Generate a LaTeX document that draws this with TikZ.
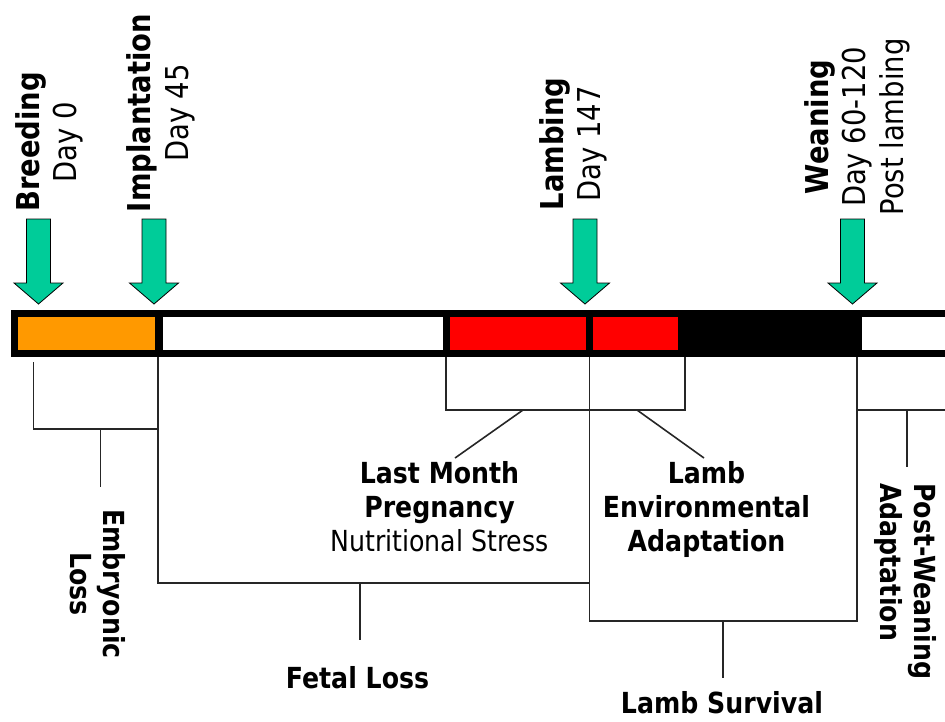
\documentclass[tikz,border=0pt]{standalone}
\usepackage{fontspec}
\setmainfont{DejaVu Sans}[FakeStretch=0.87]
\usepackage{tikz}
\usetikzlibrary{positioning}
\definecolor{arrowgreen}{RGB}{0,204,153}
\definecolor{embryo}{RGB}{255,153,0}

\tikzset{
  barseg/.style={draw=black,line width=7.2pt},
  dayarrow/.style={fill=arrowgreen,draw=black,line width=0.8pt},
  bracket/.style={draw=black!85,line width=1.6pt},
  toplab/.style={inner sep=0pt,rotate=90,anchor=base,
                 font=\fontsize{31.5}{37}\selectfont},
  toplabb/.style={toplab,font=\fontsize{31.5}{37}\selectfont\bfseries},
  lowlab/.style={inner sep=0pt,anchor=base,
                 font=\fontsize{29}{34}\selectfont},
  lowlabb/.style={lowlab,font=\fontsize{29}{34}\selectfont\bfseries}
}

\begin{document}
\begin{tikzpicture}[x=1pt,y=-1pt]
    \useasboundingbox (0,0) rectangle (945,721);
    \clip (0,0) rectangle (945,721);
    % ------------------------------------------------------------------
    %                             TIME BAR
    % ------------------------------------------------------------------
    \foreach \xa/\xb/\col in {14.5/159/embryo, 159/446.5/white,
        446.5/589.5/red, 589.5/682/red, 682/858.5/black, 858.5/990/white}
      \draw[barseg,fill=\col] (\xa,313.5) rectangle (\xb,353.5);

    % milestone arrows
    \foreach \ax in {38.5,154,585,852.5}
      \draw[dayarrow] (\ax-12,219) -- (\ax+12,219) -- (\ax+12,283)
        -- (\ax+24.5,283) -- (\ax,304) -- (\ax-24.5,283)
        -- (\ax-12,283) -- cycle;

    % ------------------------------------------------------------------
    %                             TOP LABELS
    % ------------------------------------------------------------------
    \node[toplabb] (breed)     at (39,142)  {Breeding};
    \node[toplab]  (breedday)  at (76,142)  {Day 0};
    \node[toplabb] (implant)   at (150,113) {Implantation};
    \node[toplab]  (implday)   at (188,113) {Day 45};
    \node[toplabb] (lambing)   at (563,144) {Lambing};
    \node[toplab]  (lambday)   at (600,144) {Day 147};
    \node[toplabb] (wean)      at (828,127) {Weaning};
    \node[toplab]  (weanday)   at (865,127) {Day 60-120};
    \node[toplab]  (weanpost)  at (903,127) {Post lambing};

    % ------------------------------------------------------------------
    %                             LOWER LABELS
    % ------------------------------------------------------------------
    \node[lowlabb,rotate=-90] (embryo)   at (103,584) {Embryonic};
    \node[lowlabb,rotate=-90] (embloss)  at (70,584)  {Loss};
    \node[lowlabb] (lastmonth) at (439.5,483) {Last Month};
    \node[lowlabb] (pregnancy) at (439.5,517) {Pregnancy};
    \node[lowlab]  (nutrition) at (439.5,551) {Nutritional Stress};
    \node[lowlabb] (lamb)      at (706.5,483) {Lamb};
    \node[lowlabb] (environ)   at (706.5,517) {Environmental};
    \node[lowlabb] (adapt)     at (706.5,551) {Adaptation};
    \node[lowlabb] (fetal)     at (357.5,688) {Fetal Loss};
    \node[lowlabb] (survival)  at (722,713.5) {Lamb Survival};
    \node[lowlabb,rotate=-90,anchor=base west] (postwean) at (914,483) {Post-Weaning};
    \node[lowlabb,rotate=-90,anchor=base west] (postadapt) at (880,483) {Adaptation};

    % ------------------------------------------------------------------
    %                             BRACKETS
    % ------------------------------------------------------------------
    % embryonic loss
    \coordinate (eA) at (33.5,362);
    \coordinate (eB) at (33.5,429);
    \coordinate (eC) at (158,429);
    \coordinate (eS) at (100.5,429);
    \coordinate (eT) at (100.5,487);
    % fetal loss
    \coordinate (fA) at (158,357);
    \coordinate (fB) at (158,583);
    \coordinate (fC) at (589.5,583);
    \coordinate (fS) at (360,583);
    \coordinate (fT) at (360,640);
    % last month / lamb adaptation
    \coordinate (mA) at (446,357);
    \coordinate (mB) at (446,410);
    \coordinate (mC) at (685,410);
    \coordinate (mD) at (685,357);
    \coordinate (mL) at (523,410);
    \coordinate (mLt) at (455,458);
    \coordinate (mR) at (637,410);
    \coordinate (mRt) at (704,458);
    % lamb survival
    \coordinate (sA) at (589.5,357);
    \coordinate (sB) at (589.5,621);
    \coordinate (sC) at (857,621);
    \coordinate (sD) at (857,357);
    \coordinate (sS) at (723,621);
    \coordinate (sT) at (723,678);
    % post-weaning
    \coordinate (pA) at (857,410);
    \coordinate (pB) at (950,410);
    \coordinate (pS) at (907,410);
    \coordinate (pT) at (907,467);

    \draw[bracket] (eA) -- (eB) -- (eC);
    \draw[bracket] (eS) -- (eT);
    \draw[bracket] (fA) -- (fB) -- (fC);
    \draw[bracket] (fS) -- (fT);
    \draw[bracket] (mA) -- (mB) -- (mC) -- (mD);
    \draw[bracket] (mL) -- (mLt);
    \draw[bracket] (mR) -- (mRt);
    \draw[bracket] (sA) -- (sB) -- (sC) -- (sD);
    \draw[bracket] (sS) -- (sT);
    \draw[bracket] (pA) -- (pB);
    \draw[bracket] (pS) -- (pT);
\end{tikzpicture}
\end{document}
